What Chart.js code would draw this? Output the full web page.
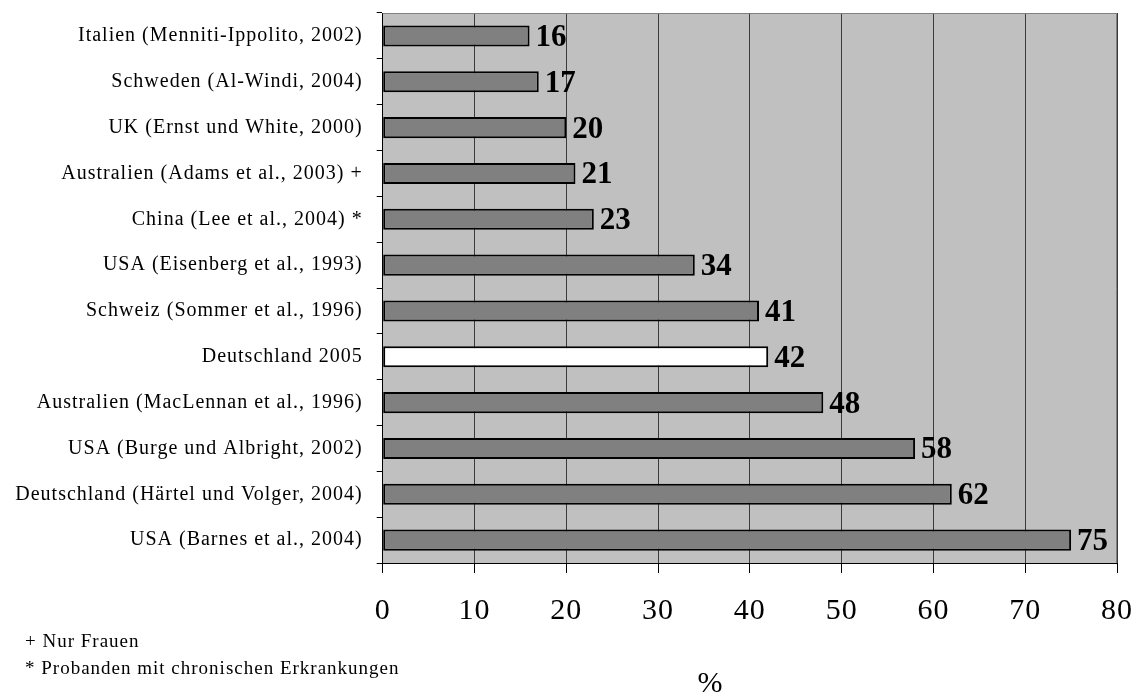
<!DOCTYPE html>
<html lang="de">
<head>
<meta charset="utf-8">
<title>Anteil in %</title>
<script src="https://cdn.jsdelivr.net/npm/chart.js@4/dist/chart.umd.min.js"></script>
<style>
  html, body { margin: 0; padding: 0; background: #fff; }
  #wrap { position: relative; width: 1135px; height: 693px; overflow: hidden; }
  #chart { position: absolute; left: 0; top: 0; }
  .note { position: absolute; font-family: "Liberation Serif", "Times New Roman", serif;
          color: #000; white-space: nowrap; }
  .foot { left: 25px; font-size: 19px; line-height: 19px; letter-spacing: 1px; }
  #unit { left: 660px; width: 100px; text-align: center; top: 667px;
          font-size: 30px; line-height: 30px; }
</style>
</head>
<body>
<div id="wrap">
  <canvas id="chart" width="1135" height="693"></canvas>
  <div class="note foot" style="top:631px">+ Nur Frauen</div>
  <div class="note foot" style="top:658px">* Probanden mit chronischen Erkrankungen</div>
  <div class="note" id="unit">%</div>
</div>
<script>
// Studien (Kategorien, von oben nach unten)
const studies = [
  'Italien (Menniti-Ippolito, 2002)',
  'Schweden (Al-Windi, 2004)',
  'UK (Ernst und White, 2000)',
  'Australien (Adams et al., 2003) +',
  'China (Lee et al., 2004) *',
  'USA (Eisenberg et al., 1993)',
  'Schweiz (Sommer et al., 1996)',
  'Deutschland 2005',
  'Australien (MacLennan et al., 1996)',
  'USA (Burge und Albright, 2002)',
  'Deutschland (Härtel und Volger, 2004)',
  'USA (Barnes et al., 2004)'
];
// Anteil in Prozent
const percentages = [16, 17, 20, 21, 23, 34, 41, 42, 48, 58, 62, 75];
// Achsenbeschriftung der x-Achse
const xTicks = [0, 10, 20, 30, 40, 50, 60, 70, 80];
const ownStudy = 'Deutschland 2005';

const SERIF = '"Liberation Serif", "Times New Roman", serif';

// grey plot background plus a thin frame on top and right
const plotFrame = {
  id: 'plotFrame',
  beforeDraw(chart) {
    const { ctx, chartArea: a } = chart;
    ctx.letterSpacing = '1px';
    ctx.save();
    ctx.fillStyle = '#c0c0c0';
    ctx.fillRect(a.left, a.top, a.right - a.left, a.bottom - a.top);
    ctx.restore();
  },
  beforeDatasetsDraw(chart) {
    const { ctx, chartArea: a } = chart;
    ctx.save();
    ctx.strokeStyle = '#808080';
    ctx.lineWidth = 1;
    ctx.beginPath();
    ctx.moveTo(a.left, a.top + 0.5);
    ctx.lineTo(a.right - 0.5, a.top + 0.5);
    ctx.lineTo(a.right - 0.5, a.bottom);
    ctx.stroke();
    ctx.restore();
  }
};

// bold value next to the end of each bar
const valueLabels = {
  id: 'valueLabels',
  afterDatasetsDraw(chart) {
    const { ctx } = chart;
    const meta = chart.getDatasetMeta(0);
    ctx.save();
    ctx.letterSpacing = '0px';
    ctx.font = 'bold 31px ' + SERIF;
    ctx.fillStyle = '#000';
    ctx.textAlign = 'left';
    ctx.textBaseline = 'middle';
    meta.data.forEach((bar, i) => {
      ctx.fillText(String(percentages[i]), bar.x + 6, bar.y + 2);
    });
    ctx.restore();
  }
};

new Chart(document.getElementById('chart'), {
  type: 'bar',
  data: {
    labels: studies,
    datasets: [{
      data: percentages,
      backgroundColor: c => studies[c.dataIndex] === ownStudy ? '#ffffff' : '#808080',
      borderColor: '#000',
      borderWidth: 2,
      borderSkipped: false,
      barPercentage: 0.46,
      categoryPercentage: 1
    }]
  },
  options: {
    indexAxis: 'y',
    responsive: false,
    animation: false,
    layout: { padding: { top: 13, right: 18, bottom: 0, left: 0 } },
    plugins: { legend: { display: false }, tooltip: { enabled: false } },
    scales: {
      x: {
        min: 0,
        max: 80,
        afterFit(s) { s.height = 130; s.paddingLeft = 0; s.paddingRight = 0; },
        afterBuildTicks(s) { s.ticks = xTicks.map(v => ({ value: v })); },
        ticks: { color: '#000', font: { family: SERIF, size: 30 }, padding: 20, maxRotation: 0 },
        grid: { color: '#3a3a3a', lineWidth: 1, tickLength: 10, tickColor: '#000' },
        border: { color: '#000', width: 1 }
      },
      y: {
        afterFit(s) { s.width = 382.7; s.paddingTop = 0; s.paddingBottom = 0; },
        ticks: { color: '#000', font: { family: SERIF, size: 20 }, padding: 14 },
        grid: { offset: true, drawOnChartArea: false, tickLength: 6, color: '#000' },
        border: { color: '#000', width: 1 }
      }
    }
  },
  plugins: [plotFrame, valueLabels]
});
</script>
</body>
</html>
